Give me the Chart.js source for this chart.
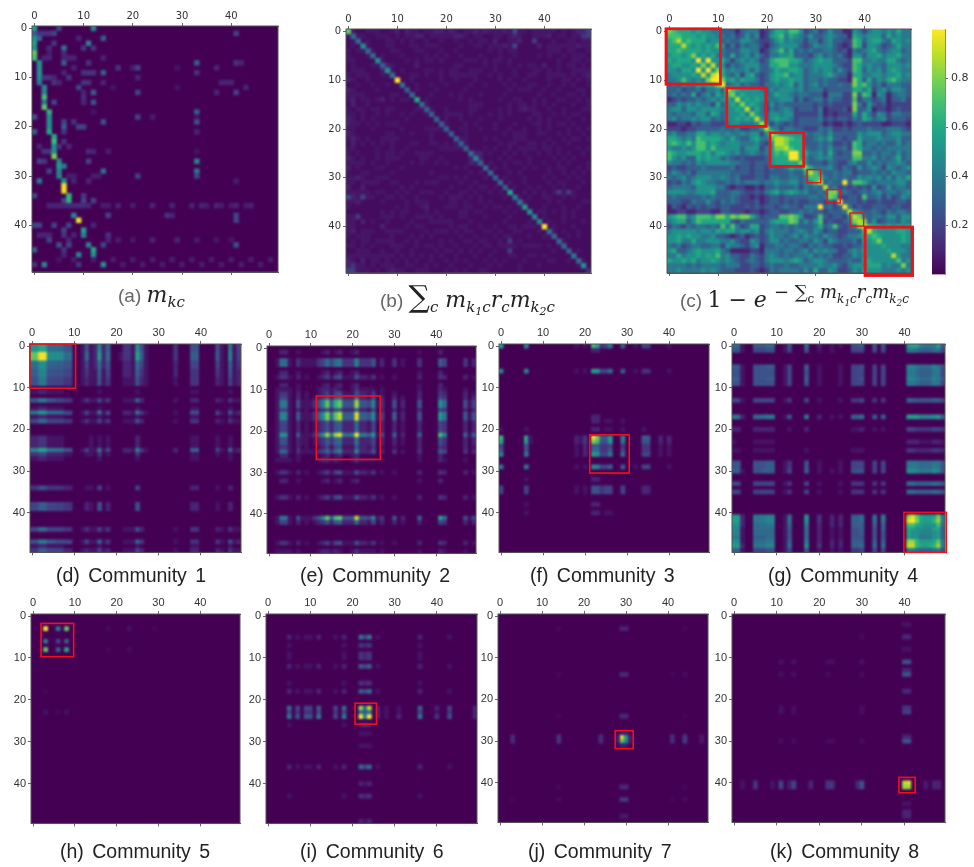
<!DOCTYPE html>
<html>
<head>
<meta charset="utf-8">
<script src="https://cdn.jsdelivr.net/npm/chart.js@4"></script>
<style>
html, body { margin: 0; padding: 0; background: #fff; }
body { width: 974px; height: 867px; position: relative; overflow: hidden; }
canvas { position: absolute; filter: blur(0.3px); }
.cap { position: absolute; white-space: nowrap; font-family: "Liberation Sans", sans-serif; color: #222; font-size: 19.5px; word-spacing: 3px; line-height: 22px; filter: blur(0.3px); }
.top { color: #666; font-size: 19px; word-spacing: 0; }
.m { font-family: "DejaVu Serif", serif; font-style: italic; color: #222; font-size: 22px; }
sub, sup { line-height: 0; }
.m sub { font-size: 15px; }
.m sub sub { font-size: 11px; vertical-align: -3px; }
.m sup { font-size: 18px; vertical-align: 9px; }
.m sup sub { font-size: 12px; }
.m sup sub sub { font-size: 9px; }
</style>
</head>
<body>
<script>
const tickValues = [0, 10, 20, 30, 40];
const colorbarTicks = [0.2, 0.4, 0.6, 0.8];
const viridis = ['#440154','#482475','#414487','#355f8d','#2a788e','#21918c','#22a884','#44bf70','#7ad151','#bddf26','#fde725'];

// (a) sparse cells: row, col, value
const mkcCells = [
[0,0,.55],[0,5,.2],[0,12,.45],[1,0,.3],[1,1,.15],[1,2,.15],[1,3,.15],[1,4,.2],[1,41,.2],[2,0,.5],[2,1,.3],[2,14,.3],[2,9,.1],
[3,0,.55],[3,4,.15],[3,11,.45],[4,0,.5],[4,3,.12],[4,6,.4],[4,10,.15],[4,12,.15],[5,0,.75],[5,6,.12],[5,3,.08],
[6,0,.7],[6,2,.1],[6,3,.1],[6,6,.1],[6,7,.1],[6,8,.1],[6,14,.1],[7,1,.5],[7,6,.3],[7,11,.15],[7,33,.3],[7,41,.15],[7,42,.1],
[8,1,.5],[8,8,.1],[8,17,.15],[8,20,.08],[8,21,.2],[8,29,.05],[8,37,.1],[9,1,.5],[9,6,.1],[9,10,.15],[9,11,.15],[9,12,.15],[9,14,.3],[9,33,.15],
[10,1,.5],[10,2,.15],[10,3,.15],[10,4,.1],[10,7,.15],[10,21,.1],[11,1,.4],[11,4,.15],[11,5,.1],[11,10,.15],[11,11,.15],[11,14,.1],[11,38,.1],[11,39,.1],[11,40,.1],
[12,2,.45],[12,9,.2],[12,16,.05],[12,29,.05],[12,43,.1],[13,2,.45],[13,10,.1],[13,12,.3],[13,21,.2],[13,37,.1],[13,41,.2],[14,2,.7],[14,10,.12],
[15,2,.4],[15,4,.2],[15,10,.1],[15,12,.25],[16,2,.75],[17,3,.65],[17,12,.05],[17,33,.3],[18,0,.25],[18,3,.5],[18,21,.2],[18,24,.08],[18,33,.05],
[19,3,.5],[19,6,.2],[19,8,.15],[19,14,.25],[19,33,.25],[20,3,.5],[20,6,.3],[20,9,.2],[20,10,.2],[21,0,.3],[21,3,.6],[21,6,.15],[21,33,.1],
[22,4,.6],[23,4,.7],[23,6,.15],[24,1,.1],[24,4,.5],[24,5,.15],[24,7,.1],[25,2,.15],[25,3,.15],[25,4,.5],[25,11,.12],[25,12,.1],[25,15,.08],[25,33,.05],
[26,4,.8],[27,1,.2],[27,2,.15],[27,5,.45],[27,11,.2],[27,33,.45],[28,5,.55],[28,6,.4],[29,3,.2],[29,5,.45],[29,14,.35],[29,33,.4],
[30,5,.45],[30,7,.08],[30,8,.08],[30,12,.08],[30,13,.08],[30,21,.2],[30,33,.2],[31,1,.4],[31,6,.5],[31,8,.1],[31,11,.1],[31,41,.08],[32,6,.97],[33,6,.97],
[34,0,.2],[34,7,.65],[34,10,.15],[35,6,.2],[35,7,.65],[35,10,.2],[35,12,.2],
[36,3,.1],[36,4,.1],[36,5,.1],[36,6,.1],[36,7,.12],[36,8,.12],[36,9,.12],[36,10,.12],[36,11,.1],[36,14,.08],[36,15,.08],[36,17,.1],[36,20,.08],[36,24,.1],[36,28,.1],[36,32,.1],[36,34,.1],[36,35,.08],[36,37,.1],[36,38,.08],[36,40,.08],[36,41,.1],[36,43,.08],[36,44,.1],
[38,8,.45],[38,15,.2],[38,27,.15],[38,28,.1],[38,41,.2],[39,9,.97],[39,41,.2],[40,0,.2],[40,1,.2],[40,4,.2],[40,7,.2],[40,12,.1],
[41,6,.2],[41,10,.55],[42,1,.1],[42,2,.1],[42,3,.1],[42,6,.15],[42,8,.1],[42,10,.45],[42,15,.15],
[43,3,.2],[43,7,.1],[43,15,.1],[43,17,.08],[43,20,.06],[43,24,.1],[43,29,.1],[43,33,.08],[43,37,.06],[43,40,.06],[44,5,.25],[44,7,.2],[44,11,.45],[44,14,.2],[44,41,.25],
[45,0,.3],[45,6,.15],[45,12,.6],[46,6,.1],[46,9,.45],[46,12,.5],
[47,5,.06],[47,8,.08],[47,12,.08],[47,16,.08],[47,20,.08],[47,24,.08],[47,28,.08],[47,32,.08],[47,36,.08],[47,40,.08],[47,44,.08],[47,48,.08],
[48,0,.15],[48,2,.45],[48,9,.15],[48,14,.5],[48,18,.08],[48,22,.08],[48,26,.08],[48,30,.08],[48,34,.08],[48,38,.08],[48,42,.08],[48,46,.08]
];

// (b) diagonal values and the cells above it (row r starts at col r+1), one char = 0.03
const sumDiagonal = [.75,.35,.35,.5,.35,.35,.5,.3,.5,.35,1,.35,.3,.35,.6,.35,.3,.3,.3,.3,.3,.3,.3,.3,.3,.35,.45,.3,.35,.33,.3,.33,.3,.6,.4,.4,.55,.5,.45,.45,1,.35,.33,.33,.35,.33,.4,.35,.5,.12];
const sumUpper = [
"211222112 3132212233 2321223232 2232822122 2221212336",
"22112221 2122331222 2233212211 2212321122 2312212256",
"1211122 1212112112 1121121221 3112231161 1121122122",
"211122 1112212221 1112112212 2232711113 1222222322",
"21112 2111221112 1121111112 1212211111 1222122112",
"1211 1211112121 2112111211 1211211112 1211212221",
"211 1121212212 1111222121 2212111111 1112112212",
"32 1111311111 1122111121 2112121221 3112122121",
"2 1211112212 1221122211 2111211122 1212112222",
"1112212112 1222222112 1211211221 1222212123",
"112111112 1121112111 1212112111 1211221212",
"11211211 2111121121 1121211221 1211212112",
"1211121 1111211111 1112122211 2112111221",
"111211 1212111211 1121111112 1121122121",
"12111 1112121111 1211221121 2112211212",
"2111 1111122211 1112122121 2121112112",
"211 2111122111 1212123221 1211211122",
"11 2222121112 1212111122 1121212211",
"1 2112111211 1211111212 1211121121",
"2111212111 2111211122 1212212111",
"112211211 2112112112 1211121212",
"11211111 1121222112 2112121121",
"2211121 2111222111 1211212212",
"211111 1212211221 2121121111",
"11121 2112122221 2212111212",
"3312 1121212112 1212121121",
"311 1212111211 1121212111",
"12 1121221211 2112121112",
"1 2121112121 1212211212",
"1112121111 1211212121",
"121112111 2121121211",
"12112111 1212211121",
"1211212 1121211211",
"112121 2126262111",
"21211 2211212111",
"2111 1212111122",
"111 2111211211",
"12 2121212111",
"1 2111212111",
"1211211121",
"121112111",
"21211211",
"1121211",
"211111",
"11111",
"1211",
"111",
"21",
"1"
];

// (c) cells on and above the diagonal (row r starts at col r), one digit = 0.1, a = 1
const probUpper = [
"8766656554 4333134441 2466577523 4235331154 2455454644",
"776665655 4434235351 2567465435 3345433165 4555364544",
"96766645 5343355432 2356454424 4245332276 3566436545",
"9656565 7524243442 1345555323 5445321276 2554234644",
"666565 5433355441 2457463434 3344323143 4564345534",
"85656 4436345353 2445563332 4534342155 3556455644",
"a5a5 5642454542 3677766534 5655333277 4454466434",
"859 4524345553 3667755444 5555432276 4544355545",
"a5 8645445353 3465566534 5455353276 3545356544",
"9 a643525632 3566745534 4456433166 4455455645",
"a856465542 3565565534 4343322186 3635467544",
"a34534332 4454563534 5343343386 7534244433",
"97655554 3545554534 4423333366 4624535543",
"8565555 3465543443 3314442283 7615413443",
"956565 4445552423 4424332272 4423413342",
"85654 2534333333 2323222284 2532312222",
"9464 2434542333 2412223183 3512212322",
"854 3554552222 2412122263 6425424433",
"95 3565542333 3423233243 6534523332",
"9 5243232333 3312112123 2222112221",
"9542443322 2434223233 3433344432",
"975555543 4435333335 4555345544",
"99876633 4546332336 4445444533",
"9866633 3434223276 3443433534",
"976643 3435334276 4434344444",
"aa664 4536323388 3343443534",
"a653 4545333377 4453434634",
"853 3324322453 3534344543",
"86 4445324325 3454254345",
"9 7533434423 3343435443",
"7743434335 4545353546",
"93433a377 6434444553",
"93423232 3252353443",
"8834323 4345344345",
"722332 7334242354",
"a3332 3223222332",
"a423 2233323322",
"954 3343243443",
"98 4344355355",
"9 8352344354",
"9766565656",
"965555665",
"76555565",
"8555565",
"6555445",
"65554",
"9544",
"745",
"84",
"5"
];

// rows of the community panels, one char = 0.05, k = 1
const Z = "0000000000 0000000000 0000000000 0000000000 0000000000";

const dA = "aacc777755 0015129260 00331a5100 0000300055 0000510814";
const dB = "ffkkaaaa77 001712b270 01331c6100 0000300066 0000610914";
const dC = "77aa666655 0014127250 0022174100 0000200044 0000410613";
const dD = "6699555544 0013116140 0022163100 0000200033 0000310512";
const dE = "5588444433 0012115130 0011152100 0000100033 0000210412";
const dF = "5588554433 0013114130 0011162000 0000100022 0000210311";
const dG = "88bb777744 0014118140 0022183100 0000100055 0000410612";
const dH = "4477444433 0013114130 0011152000 0000100033 0000210311";
const dJ = "2233111100 0000101010 0000020000 0000000011 0000100100";
const dK = "99cc888855 0014118140 0022193100 0000200066 0000410712";
const dL = "3344222211 0001103010 0000030000 0000000011 0000100100";
const dM = "3355333322 0001104010 0000040000 0000000022 0000100200";
const dN = "4466444433 0002105020 0000050000 0000000022 0000100200";
const dP = "5599665544 0014117130 0011173000 0000100033 0000310512";
const dQ = "3366444422 0012114120 0011142000 0000100022 0000210311";
const dS = "1122111100 0000001000 0000010000 0000000011 0000000100";
const communityD = [dA,dA,dB,dB,dC,dC,dD,dD,dE,dE,Z,dS,Z,dF,Z,dS,dG,dS,dH,Z,Z,Z,dJ,dJ,dJ,dK,dL,dS,Z,Z,Z,Z,Z,Z,dM,Z,Z,Z,dN,dN,Z,Z,Z,Z,dH,Z,Z,dP,dS,dQ];

const eP = "001aa10611 136ah8hj87 8k886b1500 6020006000 0e90000716";
const eQ = "0019910611 136ag7fi66 6j665a1400 6020005000 0b80000615";
const eR = "0018810511 1359f6df55 5h55491300 5020005000 0a70000514";
const eC = "0017710311 1134747833 3933350200 3010003000 0640000302";
const eT = "0015510211 0123636722 2822240200 2010002000 0530000202";
const eK = "0017710311 1134737922 2a22250200 3010003000 0640000302";
const eS = "0011110100 0012212100 1311110100 0000001000 0210000100";
const eD = "0013310201 0012414511 1522130100 1000002000 0320000201";
const eF = "0002200100 0001201200 1200000000 0000001000 0200000000";
const eM = "0014410201 0123525622 2722140200 2010002000 0430000202";
const eO = "0018810511 1359f6ef55 5i55491300 5020006000 0c70000514";
const communityE = [Z,eF,Z,eC,eC,Z,eF,eD,Z,eF,eS,eD,eM,eR,eR,eM,eQ,eQ,eM,eM,eM,eP,eT,eT,eD,eK,eF,eS,Z,Z,eD,Z,eF,Z,Z,Z,eD,Z,Z,Z,Z,eO,eM,Z,Z,Z,Z,eD,Z,eS];

const f0 = "b000009000 0000000010 10ec348006 0010440000 1000000000";
const f1 = "0000000000 0000000000 0022000000 0000000000 0000000000";
const f6 = "9000009000 0000000010 10bb447006 0010330000 1000000000";
const f18 = "0000000000 0000000000 0022011001 0000000000 0000000000";
const f20 = "1000001000 0000000000 0022011001 0000100000 0000000000";
const f22 = "d00000c100 0000000021 30kg66b009 0000660020 2000000000";
const f23 = "c00000b100 0000000021 30ge55b008 0000550020 2000000000";
const f24 = "4000005000 0000000010 2066334003 0000330010 1000000000";
const f25 = "5000005000 0000000010 2077335004 0000330010 1000000000";
const f26 = "9000008000 0000000010 20ba448007 0000440010 1000000000";
const f29 = "8000008000 0000000010 10a9446006 0010440000 1000000000";
const f32 = "0000001000 0000000000 0022000000 0000000000 0000000000";
const f34 = "4000004000 0000000010 1055344004 0000220000 0000000000";
const f40 = "0000001000 0000000000 0022011000 0000000000 0000000000";
const communityF = [f0,f1,Z,Z,Z,Z,f6,Z,Z,Z,Z,Z,Z,Z,Z,Z,Z,f1,f18,Z,f20,Z,f22,f23,f24,f25,f26,Z,Z,f29,Z,Z,f32,Z,f34,f34,Z,Z,f32,Z,f40,Z,Z,Z,Z,Z,Z,Z,Z,Z];

const g0 = "7710066677 0015000700 2001010055 6005050000 0bcc9888c6";
const g1 = "5510044455 0014000500 1001000044 4004040000 0887666784";
const gE = "6610055566 0014000600 1000010044 5004040000 0998777985";
const gD = "5510055555 0014000500 1000010044 4004040000 0887666884";
const g13 = "4410044444 0013000400 1000010033 4003030000 0665555664";
const g17 = "8820077788 0015000800 2001010066 7006060000 0bbb999ab6";
const g20 = "2200022222 0001000200 0000000011 2001010000 0443333443";
const g23 = "1000011111 0000000000 0000000000 0000000000 0222111221";
const g25 = "1100011111 0000000100 0000000011 1000000000 0332222332";
const g28 = "5500055566 0013000500 1000010044 4004040000 0888777885";
const g30 = "6610055666 0014000600 1001010055 5004040000 0aa9888a95";
const g33 = "4400044444 0013000400 1000010033 3003030000 0776666775";
const g41 = "bb20088899 0017000a00 3002020066 7007080000 0hjfcbbcg8";
const g42 = "bb20088899 0017000a00 3002020066 7007080000 0jkgcbbdh8";
const g43 = "aa20077788 0016000800 2002020066 6006060000 0eecbaaae7";
const g44 = "9910077777 0015000700 2001010055 6005060000 0cbaa99bc6";
const g45 = "9910077777 0015000700 2001010055 6005050000 0caa999ab6";
const g46 = "8810066677 0015000700 2001010055 5005050000 0baa888ab6";
const g47 = "aa10077788 0016000800 2002020066 6006060000 0hhdbbbcf8";
const g48 = "bb20088899 0017000a00 3002020066 7007070000 0iidcbcdh8";
const g49 = "6610044455 0014000500 1001010033 4004040000 0887666785";
const communityG = [g0,g1,Z,Z,Z,gE,gD,gD,gE,gD,Z,Z,Z,g13,Z,Z,Z,g17,Z,Z,g20,Z,Z,g23,Z,g25,Z,Z,g28,g28,g30,Z,Z,g33,Z,g33,Z,Z,Z,Z,Z,g41,g42,g43,g44,g45,g46,g47,g48,g49];

const i5 = "0000020101 1020001020 0084801000 0000002000 0001000000";
const i7 = "0000010000 0000000010 0032300000 0000001000 0000000000";
const i12 = "0000020101 1020001020 0064601000 0000002000 0001000000";
const i18 = "0000020101 1020001020 0064701000 0000002000 0001000000";
const i22 = "0000070404 4060004070 00h8i02010 0100006000 2004000002";
const i23 = "0000040303 3040003040 0085802010 0100004000 1003000002";
const i24 = "0000080505 5080004080 00k9k02010 0200008000 3005000002";
const i26 = "0000010000 0000000010 0023200000 0000000000 0000000000";
const i28 = "0000000000 0000000000 0011100000 0000000000 0000000000";
const i36 = "0000020101 1020001020 0074701000 0000002000 0001000000";
const i40 = "0000000000 0000000000 0021200000 0000000000 0000000000";
const communityI = [Z,Z,Z,Z,Z,i5,Z,i7,Z,i7,i7,Z,i12,Z,Z,Z,i7,Z,i18,Z,Z,Z,i22,i23,i24,Z,i26,Z,i28,Z,Z,i28,Z,Z,Z,Z,i36,Z,Z,Z,i40,Z,Z,i7,Z,Z,Z,Z,Z,i40];

const communityH = [[3,3,1],[3,6,.42],[3,8,.75],[6,3,.42],[6,6,.2],[6,8,.3],[8,3,.75],[8,6,.3],[8,8,.6],[3,18,.03],[3,23,.05],[3,29,.02],[8,18,.02],[8,23,.03],[18,3,.02],[23,3,.05],[23,6,.02],[23,8,.04]];

const communityJ = [[29,29,1],[29,30,.55],[30,29,.75],[30,30,.5],[28,29,.08],[28,30,.08],[31,29,.08],[31,30,.08],[29,28,.08],[30,28,.08],[29,31,.08],[30,31,.08],
[3,29,.1],[3,30,.1],[14,29,.12],[14,30,.12],[24,29,.12],[24,30,.12],[41,29,.12],[41,30,.12],[44,29,.17],[44,30,.17],[48,29,.07],[48,30,.07],
[29,3,.12],[30,3,.12],[29,14,.15],[30,14,.15],[29,24,.13],[30,24,.13],[29,41,.13],[30,41,.13],[29,44,.17],[30,44,.17],[29,48,.07],[30,48,.07],
[3,14,.02],[3,44,.02],[14,14,.02],[14,44,.03],[14,41,.02],[24,14,.02],[24,44,.02],[41,14,.02],[41,44,.02],[44,3,.02],[44,14,.03],[44,41,.02],[44,44,.03]];

const communityK = [[40,40,.9],[40,41,.95],[41,40,.85],[41,41,.85],
[40,2,.05],[41,2,.05],[40,5,.15],[41,5,.15],[40,9,.05],[41,9,.05],[40,11,.2],[41,11,.2],[40,13,.08],[41,13,.08],[40,14,.2],[41,14,.2],[40,18,.1],[41,18,.1],[40,22,.15],[41,22,.15],[40,23,.15],[41,23,.15],[40,29,.1],[41,29,.1],[40,30,.25],[41,30,.25],[40,45,.07],[41,45,.07],[40,47,.1],[41,47,.1],[40,48,.1],[41,48,.1],
[2,40,.05],[2,41,.05],[5,40,.12],[5,41,.12],[8,40,.05],[8,41,.05],[11,40,.25],[11,41,.25],[13,40,.1],[13,41,.1],[14,40,.25],[14,41,.25],[18,40,.12],[18,41,.12],[22,40,.15],[22,41,.15],[23,40,.18],[23,41,.18],[29,40,.1],[29,41,.1],[30,40,.25],[30,41,.25],[45,40,.05],[45,41,.05],[47,40,.1],[47,41,.1],[48,40,.1],[48,41,.1],
[11,11,.05],[11,14,.05],[11,22,.04],[11,23,.04],[11,30,.05],[14,11,.04],[14,14,.04],[14,22,.03],[14,30,.03],[22,11,.05],[23,11,.05],[22,14,.04],[23,14,.04],[22,30,.04],[23,30,.04],[30,11,.04],[30,14,.03],[30,22,.03],[30,23,.03],[30,30,.04],[5,30,.03]];

// red boxes: col from, col to, row from, row to
const boxesC = [[-.7,10.45,-.55,10.8,2.8],[11.75,19.8,11.6,19.45,2.8],[20.6,27.5,20.75,27.65,2.6],[28.2,31,28.3,31,1.4],[32.3,35,32.4,35.15,1.4],[37,39.8,37.2,39.9,1.4],[40.1,49.8,40.1,50,3]];
const boxD = [[-.55,10.3,-.5,10.1,1.6]];
const boxE = [[11.3,26.6,11.55,26.85,1.6]];
const boxF = [[21.1,30.5,21.3,30.45,1.6]];
const boxG = [[39.85,49.8,39.9,49.5,1.6]];
const boxH = [[1.9,9.7,1.75,9.7,1.6]];
const boxI = [[20.6,25.7,20.8,25.8,1.6]];
const boxJ = [[27.4,31.7,27.5,31.8,1.6]];
const boxK = [[38.7,42.5,38.7,42.4,1.6]];

function fromRows(rows, scale) {
    let out = [];
    rows.forEach((row, r) => {
        row.replace(/ /g, '').split('').forEach((ch, c) => {
            let v = parseInt(ch, 36) * scale;
            if (v > 0) out.push({x: c, y: r, v: v});
        });
    });
    return out;
}
function fromUpper(rows, scale, diagonal) {
    // the matrix is symmetric in the picture, so each pair is read once
    let out = [];
    rows.forEach((row, r) => {
        let start = diagonal ? r + 1 : r;
        row.replace(/ /g, '').split('').forEach((ch, i) => {
            let c = start + i;
            if (c > 49) return;
            let v = parseInt(ch, 36) * scale;
            out.push({x: c, y: r, v: v});
            if (c != r) out.push({x: r, y: c, v: v});
        });
    });
    if (diagonal) diagonal.forEach((v, i) => out.push({x: i, y: i, v: v}));
    return out;
}
function fromCells(cells) {
    return cells.map(a => ({x: a[1], y: a[0], v: a[2]}));
}
function color(v) {
    let t = Math.max(0, Math.min(1, v)) * 10, i = Math.min(9, Math.floor(t)), f = t - i;
    let hex = s => [1, 3, 5].map(k => parseInt(s.substr(k, 2), 16));
    let a = hex(viridis[i]), b = hex(viridis[i + 1]);
    return 'rgb(' + a.map((n, k) => Math.round(n + (b[k] - n) * f)).join(',') + ')';
}

const frame = {
    id: 'frame',
    beforeDatasetsDraw(chart) {
        let a = chart.chartArea, ctx = chart.ctx;
        ctx.save();
        ctx.fillStyle = viridis[0];
        ctx.fillRect(a.left, a.top, a.right - a.left, a.bottom - a.top);
        ctx.restore();
    },
    afterDatasetsDraw(chart) {
        // the picture is a soft upscale, so soften the cells only, not the text
        let a = chart.chartArea, ctx = chart.ctx, w = a.right - a.left, h = a.bottom - a.top;
        ctx.save();
        ctx.beginPath();
        ctx.rect(a.left, a.top, w, h);
        ctx.clip();
        ctx.filter = 'blur(0.9px)';
        ctx.drawImage(chart.canvas, a.left, a.top, w, h, a.left, a.top, w, h);
        ctx.restore();
    },
    afterDraw(chart) {
        let a = chart.chartArea, ctx = chart.ctx, s = chart.scales;
        ctx.save();
        ctx.strokeStyle = '#555';
        ctx.lineWidth = 1;
        ctx.strokeRect(a.left, a.top, a.right - a.left, a.bottom - a.top);
        ctx.strokeStyle = '#f0101a';
        (chart.options.plugins.frame.boxes || []).forEach(b => {
            ctx.lineWidth = b[4];
            let x1 = s.x.getPixelForValue(b[0]), x2 = s.x.getPixelForValue(b[1]);
            let y1 = s.y.getPixelForValue(b[2]), y2 = s.y.getPixelForValue(b[3]);
            ctx.strokeRect(x1, y1, x2 - x1, y2 - y1);
        });
        ctx.restore();
    }
};

function heatmap(p) {
    const L = 30, T = 22, R = 8, B = 8;
    let w = p.right - p.left, h = p.bottom - p.top;
    let cv = document.createElement('canvas');
    cv.width = Math.round(w + L + R);
    cv.height = Math.round(h + T + B);
    cv.style.left = (p.left - L) + 'px';
    cv.style.top = (p.top - T) + 'px';
    document.body.appendChild(cv);
    let setTicks = s => { s.ticks = tickValues.map(v => ({value: v})); };
    let font = {family: p.family, size: p.size};
    let line = {drawOnChartArea: false, tickLength: 3, color: '#666'};
    new Chart(cv, {
        type: 'scatter',
        data: {datasets: [{
            data: p.data,
            xAxisID: 'x',
            yAxisID: 'y',
            pointStyle: 'rect',
            pointRadius: (w / 50 + 0.5) / Math.SQRT2,
            pointHoverRadius: (w / 50 + 0.5) / Math.SQRT2,
            pointBorderWidth: 0,
            pointBackgroundColor: ctx => color(ctx.raw.v)
        }]},
        options: {
            responsive: false,
            animation: false,
            layout: {autoPadding: false, padding: {right: R, top: 0, left: 0, bottom: 0}},
            plugins: {legend: {display: false}, tooltip: {enabled: false}, frame: {boxes: p.boxes}},
            scales: {
                x: {
                    type: 'linear', position: 'top', min: -0.5, max: 49.5,
                    afterBuildTicks: setTicks, afterFit: s => { s.height = T; },
                    grid: line, border: {color: '#555'},
                    ticks: {font: font, color: '#333', padding: 1, maxRotation: 0, autoSkip: false}
                },
                x2: {
                    type: 'linear', position: 'bottom', min: -0.5, max: 49.5,
                    afterBuildTicks: setTicks, afterFit: s => { s.height = B; },
                    grid: line, border: {color: '#555'},
                    ticks: {display: false}
                },
                y: {
                    type: 'linear', position: 'left', reverse: true, min: -0.5, max: 49.5,
                    afterBuildTicks: setTicks, afterFit: s => { s.width = L; },
                    grid: line, border: {color: '#555'},
                    ticks: {font: font, color: '#333', padding: 2, autoSkip: false}
                }
            }
        },
        plugins: [frame]
    });
}

const dejavu = '"DejaVu Sans"', helv = '"Liberation Sans"';
const panels = [
    {left: 32, right: 278, top: 25.7, bottom: 271.7, family: dejavu, size: 10, data: fromCells(mkcCells)},
    {left: 346, right: 590.7, top: 29, bottom: 273, family: dejavu, size: 10, data: fromUpper(sumUpper, .03, sumDiagonal)},
    {left: 667.3, right: 911.7, top: 29, bottom: 272.7, family: dejavu, size: 10, data: fromUpper(probUpper, .1), boxes: boxesC},
    {left: 30, right: 240.7, top: 344.3, bottom: 553.3, family: helv, size: 11, data: fromRows(communityD, .05), boxes: boxD},
    {left: 266.7, right: 476, top: 345.7, bottom: 554, family: helv, size: 11, data: fromRows(communityE, .05), boxes: boxE},
    {left: 499, right: 709, top: 344.3, bottom: 553.3, family: helv, size: 11, data: fromRows(communityF, .05), boxes: boxF},
    {left: 731.7, right: 945, top: 344.3, bottom: 553.3, family: helv, size: 11, data: fromRows(communityG, .05), boxes: boxG},
    {left: 30.7, right: 240, top: 614.3, bottom: 824, family: helv, size: 11, data: fromCells(communityH), boxes: boxH},
    {left: 266, right: 476.7, top: 614, bottom: 824.3, family: helv, size: 11, data: fromRows(communityI, .05), boxes: boxI},
    {left: 498.3, right: 708.3, top: 614, bottom: 823.3, family: helv, size: 11, data: fromCells(communityJ), boxes: boxJ},
    {left: 731.7, right: 944.3, top: 614, bottom: 822.7, family: helv, size: 11, data: fromCells(communityK), boxes: boxK}
];
panels.forEach(heatmap);

// colour bar
let cb = document.createElement('canvas');
cb.width = 42; cb.height = 264;
cb.style.left = '932px'; cb.style.top = '20px';
document.body.appendChild(cb);
new Chart(cb, {
    type: 'bar',
    data: {labels: [''], datasets: [{
        data: [[0, 1]],
        barPercentage: 1,
        categoryPercentage: 1,
        backgroundColor: ctx => {
            let a = ctx.chart.chartArea;
            if (!a) return viridis[0];
            let g = ctx.chart.ctx.createLinearGradient(0, a.bottom, 0, a.top);
            viridis.forEach((c, i) => g.addColorStop(i / 10, c));
            return g;
        }
    }]},
    options: {
        responsive: false,
        animation: false,
        layout: {padding: 0},
        plugins: {legend: {display: false}, tooltip: {enabled: false}},
        scales: {
            x: {display: false},
            y: {
                position: 'right', min: 0, max: 1,
                afterBuildTicks: s => { s.ticks = colorbarTicks.map(v => ({value: v})); },
                afterFit: s => { s.width = 29; },
                grid: {drawOnChartArea: false, tickLength: 3, color: '#666'},
                border: {color: '#888'},
                ticks: {font: {family: dejavu, size: 11}, color: '#333', padding: 3,
                    callback: v => v.toFixed(1)}
            }
        }
    }
});

const captions = [
    [118, 284, 'cap top', '(a) <span class="m">m<sub>kc</sub></span>'],
    [380, 289, 'cap top', '(b) <span style="font-size:30px;font-family:\'DejaVu Serif\';color:#222;line-height:0">∑</span><span class="m"><sub>c</sub> m<sub>k<sub>1</sub>c</sub>r<sub>c</sub>m<sub>k<sub>2</sub>c</sub></span>'],
    [680, 289, 'cap top', '(c) <span class="m" style="font-style:normal">1 − <i>e</i> <sup>− ∑<sub>c</sub> <i>m<sub>k<sub>1</sub>c</sub>r<sub>c</sub>m<sub>k<sub>2</sub>c</sub></i></sup></span>'],
    [56, 564, 'cap', '(d) Community 1'],
    [300, 564, 'cap', '(e) Community 2'],
    [530, 564, 'cap', '(f) Community 3'],
    [768, 564, 'cap', '(g) Community 4'],
    [60, 840, 'cap', '(h) Community 5'],
    [300, 840, 'cap', '(i) Community 6'],
    [528, 840, 'cap', '(j) Community 7'],
    [770, 840, 'cap', '(k) Community 8']
];
captions.forEach(c => {
    let d = document.createElement('div');
    d.className = c[2];
    d.style.left = c[0] + 'px';
    d.style.top = c[1] + 'px';
    d.innerHTML = c[3];
    document.body.appendChild(d);
});
</script>
</body>
</html>
